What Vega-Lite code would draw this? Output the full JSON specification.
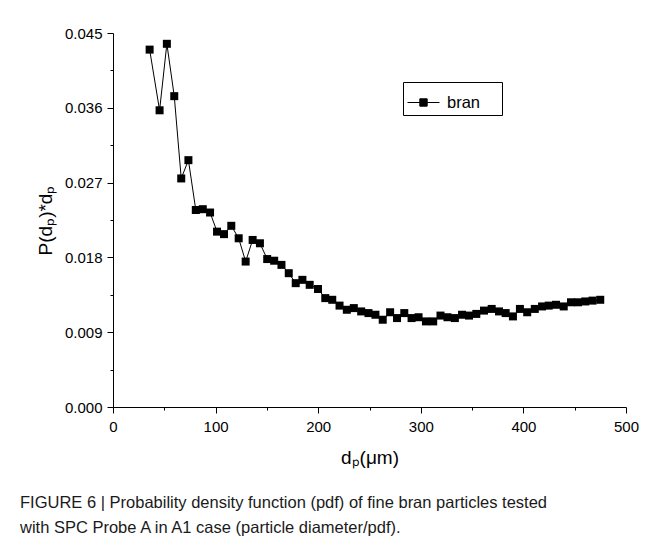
{
  "$schema": "https://vega.github.io/schema/vega-lite/v6.json",
  "width": 513,
  "height": 374,
  "autosize": {"type": "none"},
  "padding": {"left": 113, "top": 33, "right": 28, "bottom": 151},
  "background": "white",
  "config": {
    "font": "Liberation Sans",
    "view": {"stroke": null},
    "axis": {
      "domainColor": "black",
      "tickColor": "black",
      "labelColor": "black",
      "titleColor": "black",
      "labelFont": "Liberation Sans",
      "titleFont": "Liberation Sans",
      "labelFontSize": 15,
      "titleFontSize": 19,
      "titleFontWeight": "normal",
      "grid": false
    }
  },
  "title": {
    "text": ["FIGURE 6 | Probability density function (pdf) of fine bran particles tested", "with SPC Probe A in A1 case (particle diameter/pdf)."],
    "orient": "bottom",
    "anchor": "start",
    "frame": "group",
    "dx": -93,
    "offset": 28,
    "font": "Liberation Sans",
    "fontSize": 16.5,
    "fontWeight": "normal",
    "lineHeight": 25,
    "color": "#1a1a1a"
  },
  "data": {
    "values": [
      {"d": 35.7, "p": 0.0430, "series": "bran"},
      {"d": 45.4, "p": 0.0357, "series": "bran"},
      {"d": 52.5, "p": 0.0437, "series": "bran"},
      {"d": 59.7, "p": 0.0374, "series": "bran"},
      {"d": 66.5, "p": 0.0275, "series": "bran"},
      {"d": 73.5, "p": 0.0297, "series": "bran"},
      {"d": 80.7, "p": 0.0237, "series": "bran"},
      {"d": 87.5, "p": 0.0238, "series": "bran"},
      {"d": 94.6, "p": 0.0234, "series": "bran"},
      {"d": 101.4, "p": 0.0211, "series": "bran"},
      {"d": 108.2, "p": 0.0208, "series": "bran"},
      {"d": 115.3, "p": 0.0218, "series": "bran"},
      {"d": 122.5, "p": 0.0203, "series": "bran"},
      {"d": 129.3, "p": 0.0175, "series": "bran"},
      {"d": 136.1, "p": 0.0201, "series": "bran"},
      {"d": 143.2, "p": 0.0197, "series": "bran"},
      {"d": 150.3, "p": 0.0178, "series": "bran"},
      {"d": 157.1, "p": 0.0176, "series": "bran"},
      {"d": 164.2, "p": 0.0171, "series": "bran"},
      {"d": 171.3, "p": 0.0161, "series": "bran"},
      {"d": 178.1, "p": 0.0149, "series": "bran"},
      {"d": 184.6, "p": 0.0153, "series": "bran"},
      {"d": 191.7, "p": 0.0147, "series": "bran"},
      {"d": 199.8, "p": 0.0142, "series": "bran"},
      {"d": 206.9, "p": 0.0131, "series": "bran"},
      {"d": 213.7, "p": 0.0129, "series": "bran"},
      {"d": 220.8, "p": 0.0122, "series": "bran"},
      {"d": 227.9, "p": 0.0117, "series": "bran"},
      {"d": 234.7, "p": 0.0119, "series": "bran"},
      {"d": 241.9, "p": 0.0115, "series": "bran"},
      {"d": 249.0, "p": 0.0113, "series": "bran"},
      {"d": 255.8, "p": 0.0111, "series": "bran"},
      {"d": 262.9, "p": 0.0105, "series": "bran"},
      {"d": 270.1, "p": 0.0114, "series": "bran"},
      {"d": 276.8, "p": 0.0107, "series": "bran"},
      {"d": 283.9, "p": 0.0113, "series": "bran"},
      {"d": 291.0, "p": 0.0107, "series": "bran"},
      {"d": 297.8, "p": 0.0108, "series": "bran"},
      {"d": 305.0, "p": 0.0103, "series": "bran"},
      {"d": 312.1, "p": 0.0103, "series": "bran"},
      {"d": 319.2, "p": 0.0110, "series": "bran"},
      {"d": 326.0, "p": 0.0108, "series": "bran"},
      {"d": 333.2, "p": 0.0107, "series": "bran"},
      {"d": 340.2, "p": 0.0111, "series": "bran"},
      {"d": 347.0, "p": 0.0110, "series": "bran"},
      {"d": 354.1, "p": 0.0112, "series": "bran"},
      {"d": 361.6, "p": 0.0116, "series": "bran"},
      {"d": 369.1, "p": 0.0118, "series": "bran"},
      {"d": 376.2, "p": 0.0115, "series": "bran"},
      {"d": 382.7, "p": 0.0113, "series": "bran"},
      {"d": 389.8, "p": 0.0109, "series": "bran"},
      {"d": 396.6, "p": 0.0118, "series": "bran"},
      {"d": 403.7, "p": 0.0114, "series": "bran"},
      {"d": 411.1, "p": 0.0118, "series": "bran"},
      {"d": 418.2, "p": 0.0121, "series": "bran"},
      {"d": 424.7, "p": 0.0122, "series": "bran"},
      {"d": 431.8, "p": 0.0123, "series": "bran"},
      {"d": 439.3, "p": 0.0121, "series": "bran"},
      {"d": 446.4, "p": 0.0126, "series": "bran"},
      {"d": 453.2, "p": 0.0126, "series": "bran"},
      {"d": 460.3, "p": 0.0127, "series": "bran"},
      {"d": 467.4, "p": 0.0128, "series": "bran"},
      {"d": 474.9, "p": 0.0129, "series": "bran"}
    ]
  },
  "mark": {
    "type": "line",
    "strokeWidth": 1,
    "point": {"shape": "square", "size": 64, "filled": true, "color": "black", "opacity": 1}
  },
  "encoding": {
    "x": {
      "field": "d",
      "type": "quantitative",
      "scale": {"domain": [0, 500], "nice": false, "zero": false},
      "axis": {
        "title": "dₚ(μm)",
        "values": [0, 50, 100, 150, 200, 250, 300, 350, 400, 450, 500],
        "labelExpr": "datum.value % 100 === 0 ? datum.label : ''",
        "tickSize": {"condition": {"test": "datum.value % 100 === 0", "value": 6}, "value": 3},
        "labelPadding": 6,
        "titlePadding": 14,
        "labelFlush": false,
        "labelOverlap": false
      }
    },
    "y": {
      "field": "p",
      "type": "quantitative",
      "scale": {"domain": [0, 0.045], "nice": false, "zero": true},
      "axis": {
        "title": "P(dₚ)*dₚ",
        "values": [0, 0.0045, 0.009, 0.0135, 0.018, 0.0225, 0.027, 0.0315, 0.036, 0.0405, 0.045],
        "labelExpr": "round(datum.value / 0.0045) % 2 === 0 ? format(datum.value, '.3f') : ''",
        "tickSize": {"condition": {"test": "round(datum.value / 0.0045) % 2 === 0", "value": 6}, "value": 3},
        "labelPadding": 5,
        "titlePadding": 9,
        "labelFlush": false,
        "labelOverlap": false
      }
    },
    "color": {
      "field": "series",
      "type": "nominal",
      "scale": {"range": ["black"]},
      "legend": {
        "title": "mm",
        "titleOrient": "right",
        "titleColor": "transparent",
        "titleFontSize": 8,
        "titlePadding": 3,
        "orient": "none",
        "legendX": 290,
        "legendY": 49,
        "strokeColor": "black",
        "padding": 4,
        "symbolType": "M-1,0H1M-0.23,-0.23H0.23V0.23H-0.23Z",
        "symbolSize": 1024,
        "symbolStrokeWidth": 1,
        "symbolFillColor": "black",
        "symbolStrokeColor": "black",
        "labelFontSize": 16.5,
        "labelColor": "black",
        "labelOffset": 7
      }
    }
  }
}
